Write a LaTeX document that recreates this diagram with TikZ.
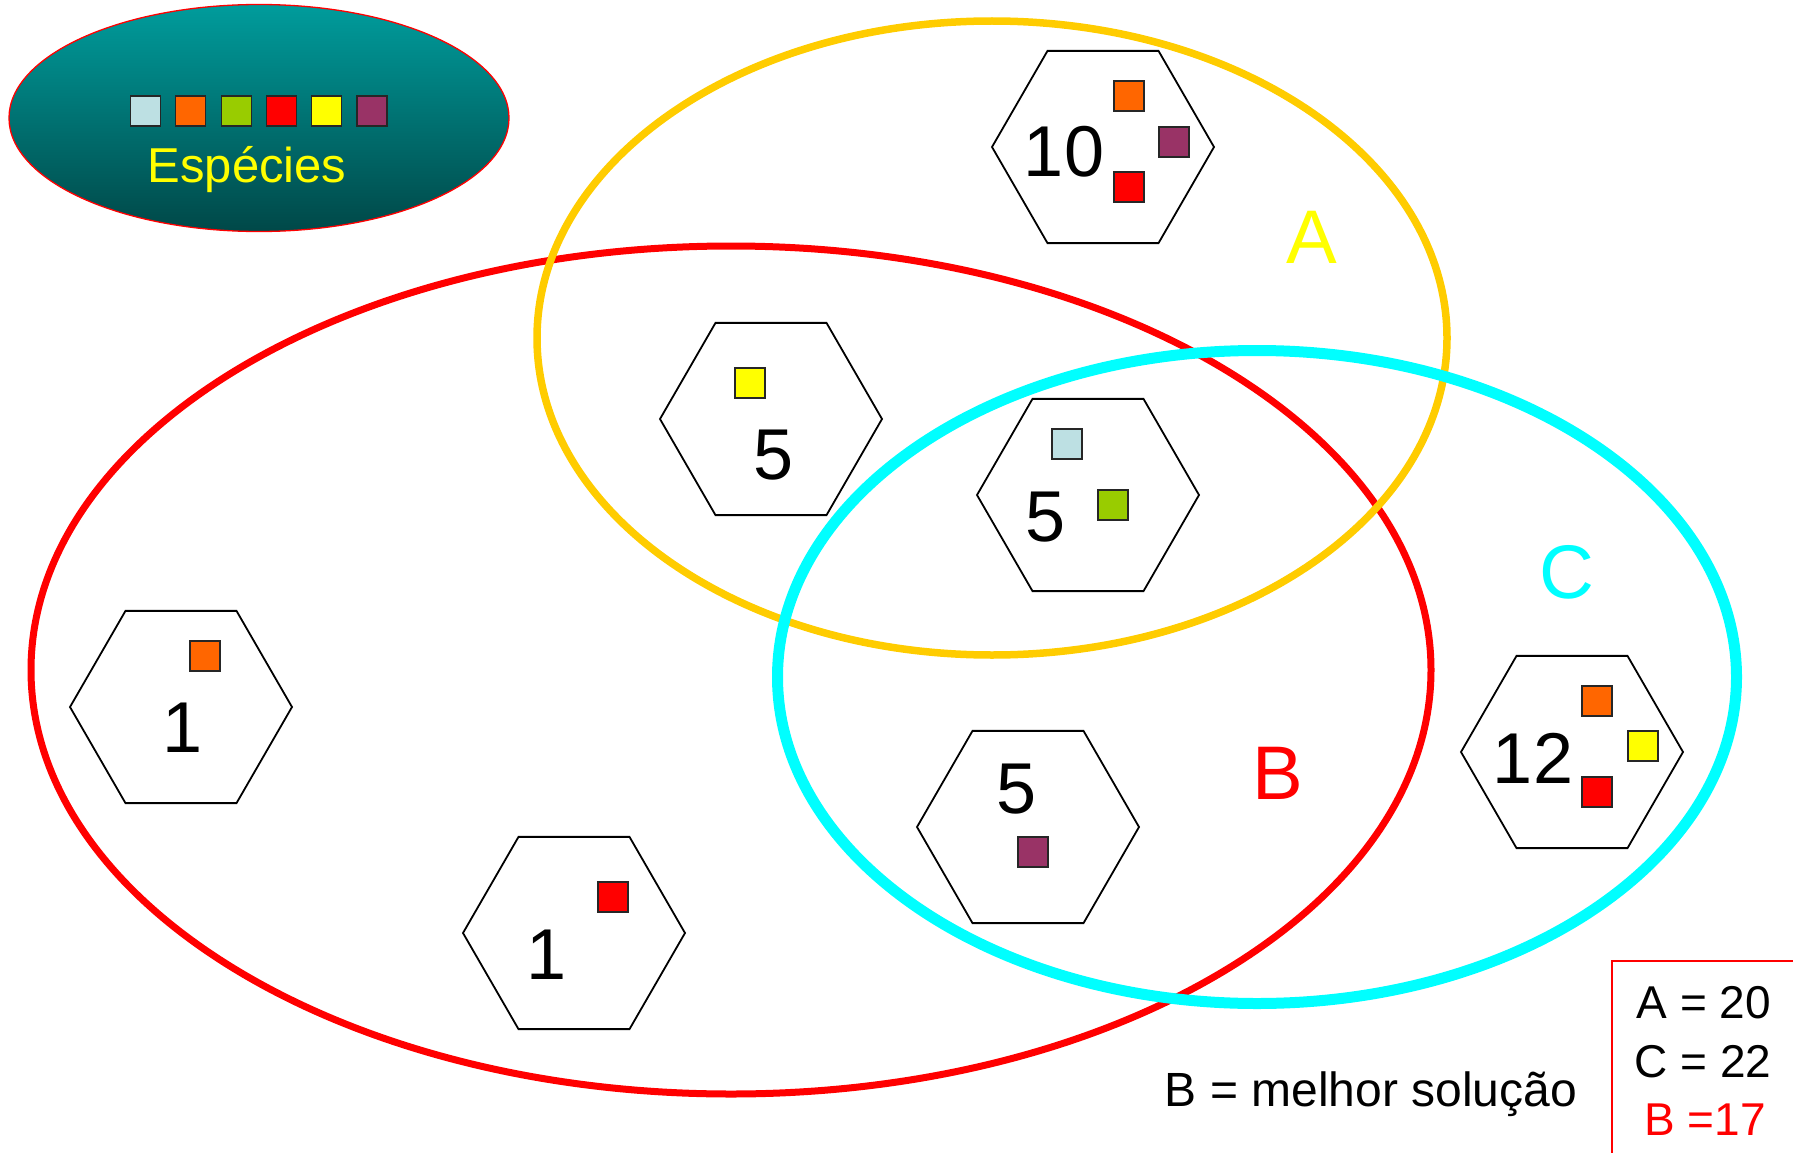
\documentclass[tikz,border=0pt]{standalone}
\usepackage{fontspec}
\setmainfont{Liberation Sans}
\usetikzlibrary{shapes.geometric}
\definecolor{spLB}{HTML}{BDE0E3}
\definecolor{spOR}{HTML}{FF6600}
\definecolor{spGR}{HTML}{99CC00}
\definecolor{spRD}{HTML}{FF0000}
\definecolor{spYE}{HTML}{FFFF00}
\definecolor{spPU}{HTML}{993366}
\definecolor{ellA}{HTML}{FFCC00}
\definecolor{ellC}{HTML}{00FFFF}
\definecolor{legTop}{HTML}{009C9C}
\definecolor{legBot}{HTML}{004848}
\begin{document}
\begin{tikzpicture}[x=1pt,y=-1pt,
  hexa/.style={draw, regular polygon, regular polygon sides=6, minimum size=222pt, inner sep=0pt, line width=1.8pt},
  sq/.style={draw=black!85, line width=1.2pt, minimum size=30pt, inner sep=0pt},
  num/.style={inner sep=0pt, font=\fontsize{72}{72}\selectfont},
  setlbl/.style={inner sep=0pt, font=\fontsize{76}{76}\selectfont},
  boxtxt/.style={inner sep=0pt, anchor=base, font=\fontsize{46}{46}\selectfont},
  setell/.style={ellipse, inner sep=0pt}]
\useasboundingbox (0,0) rectangle (1793,1153);

% legend
\node[setell, draw=red, line width=1.3pt, top color=legTop, bottom color=legBot,
      minimum width=500pt, minimum height=227pt] (leg) at (259,118) {};
\node[sq, fill=spLB] (l1) at (145.5,111) {};
\node[sq, fill=spOR] (l2) at (190.8,111) {};
\node[sq, fill=spGR] (l3) at (236.1,111) {};
\node[sq, fill=spRD] (l4) at (281.4,111) {};
\node[sq, fill=spYE] (l5) at (326.7,111) {};
\node[sq, fill=spPU] (l6) at (372,111) {};
\node[inner sep=0pt, anchor=base, text=spYE, font=\fontsize{49}{49}\selectfont] (legt) at (247,182) {Espécies};

% set ellipses
\node[setell, draw=spRD, line width=7pt, minimum width=1400pt, minimum height=848pt] (B) at (731,670) {};
\node[setell, draw=ellA, line width=7.5pt, minimum width=910pt, minimum height=634pt] (A) at (992,338) {};
\node[setell, draw=ellC, line width=11pt, minimum width=959pt, minimum height=653pt] (C) at (1257,677) {};

% hexagon 10
\node[hexa] (h10) at (1103,147) {};
\node[num] (n10) at (1064,152) {10};
\node[sq, fill=spOR] (h10a) at (1129,96) {};
\node[sq, fill=spPU] (h10b) at (1174,142) {};
\node[sq, fill=spRD] (h10c) at (1129,187) {};

% hexagon 5 yellow
\node[hexa] (h5a) at (771,419) {};
\node[sq, fill=spYE] (h5aa) at (750,383) {};
\node[num] (n5a) at (774,455) {5};

% hexagon 5 light blue / green
\node[hexa] (h5b) at (1088,495) {};
\node[sq, fill=spLB] (h5ba) at (1067,444) {};
\node[sq, fill=spGR] (h5bb) at (1113,505) {};
\node[num] (n5b) at (1046,517) {5};

% hexagon 1 orange
\node[hexa] (h1a) at (181,707) {};
\node[sq, fill=spOR] (h1aa) at (205,656) {};
\node[num] (n1a) at (183,728) {1};

% hexagon 1 red
\node[hexa] (h1b) at (574,933) {};
\node[sq, fill=spRD] (h1ba) at (613,897) {};
\node[num] (n1b) at (547,955) {1};

% hexagon 5 purple
\node[hexa] (h5c) at (1028,827) {};
\node[sq, fill=spPU] (h5ca) at (1033,852) {};
\node[num] (n5c) at (1017,789) {5};

% hexagon 12
\node[hexa] (h12) at (1572,752) {};
\node[num] (n12) at (1533,758) {12};
\node[sq, fill=spOR] (h12a) at (1597,701) {};
\node[sq, fill=spYE] (h12b) at (1643,746) {};
\node[sq, fill=spRD] (h12c) at (1597,792) {};

% set labels
\node[setlbl, text=spYE] (lA) at (1312,237) {A};
\node[setlbl, text=spRD] (lB) at (1278,773) {B};
\node[setlbl, text=ellC] (lC) at (1567,572) {C};

% bottom texts
\node[inner sep=0pt, anchor=base, font=\fontsize{48}{48}\selectfont] (best) at (1371,1106) {B = melhor solução};

\draw[spRD, line width=1.6pt] (1612,1170) -- (1612,961) -- (1810,961);
\node[boxtxt] (tA) at (1704,1018) {A = 20};
\node[boxtxt] (tC) at (1703,1077) {C = 22};
\node[boxtxt, text=spRD] (tB) at (1705,1135) {B =17};
\end{tikzpicture}
\end{document}
